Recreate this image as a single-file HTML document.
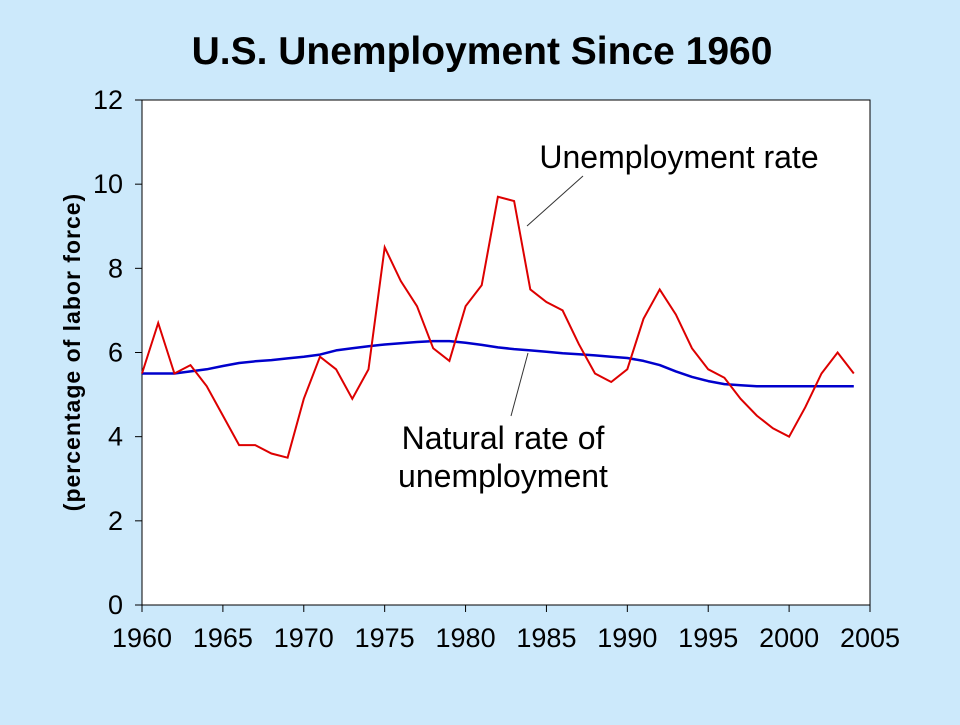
<!DOCTYPE html>
<html><head><meta charset="utf-8"><style>
html,body{margin:0;padding:0;background:#cce9fb;}
body{width:960px;height:720px;overflow:hidden;font-family:"Liberation Sans",Arial,sans-serif;}
</style></head><body>
<svg id="chart" width="960" height="720" xmlns="http://www.w3.org/2000/svg">
<rect width="960" height="720" fill="#cce9fb"/>
<text x="482" y="64" text-anchor="middle" font-size="39" font-weight="bold" fill="#000">U.S. Unemployment Since 1960</text>
<rect x="142" y="100" width="728" height="505" fill="#fff" stroke="#000" stroke-width="1"/>
<g id="axes"></g>
<g id="series"></g>
<text transform="translate(80,352) rotate(-90)" text-anchor="middle" font-size="23" font-weight="bold" letter-spacing="1" fill="#000">(percentage of labor force)</text>
<text x="679" y="168" text-anchor="middle" font-size="32" fill="#000">Unemployment rate</text>
<line x1="583" y1="176" x2="527" y2="226" stroke="#333" stroke-width="1"/>
<text x="503" y="449" text-anchor="middle" font-size="32" fill="#000">Natural rate of</text>
<text x="503" y="487" text-anchor="middle" font-size="32" fill="#000">unemployment</text>
<line x1="511" y1="416" x2="528" y2="353" stroke="#333" stroke-width="1"/>
</svg>
<script>
const years = [1960,1961,1962,1963,1964,1965,1966,1967,1968,1969,1970,1971,1972,1973,1974,1975,1976,1977,1978,1979,1980,1981,1982,1983,1984,1985,1986,1987,1988,1989,1990,1991,1992,1993,1994,1995,1996,1997,1998,1999,2000,2001,2002,2003,2004];
const unemploymentRate = [5.5,6.7,5.5,5.7,5.2,4.5,3.8,3.8,3.6,3.5,4.9,5.9,5.6,4.9,5.6,8.5,7.7,7.1,6.1,5.8,7.1,7.6,9.7,9.6,7.5,7.2,7.0,6.2,5.5,5.3,5.6,6.8,7.5,6.9,6.1,5.6,5.4,4.9,4.5,4.2,4.0,4.7,5.5,6.0,5.5];
const naturalRate = [5.5,5.5,5.5,5.55,5.6,5.68,5.75,5.79,5.82,5.86,5.9,5.95,6.05,6.1,6.15,6.19,6.22,6.25,6.27,6.27,6.23,6.18,6.12,6.08,6.05,6.02,5.98,5.96,5.93,5.9,5.87,5.8,5.7,5.55,5.42,5.32,5.25,5.22,5.2,5.2,5.2,5.2,5.2,5.2,5.2];
const yTicks = [0,2,4,6,8,10,12];
const xTicks = [1960,1965,1970,1975,1980,1985,1990,1995,2000,2005];

const X0=142,X1=870,Y0=605,Y1=100;
function xs(y){return X0+(y-1960)/(2005-1960)*(X1-X0);}
function ys(v){return Y0-(v-0)/(12-0)*(Y0-Y1);}
const NS="http://www.w3.org/2000/svg";
const axes=document.getElementById('axes');
const series=document.getElementById('series');
function mk(tag,attrs,parent){const e=document.createElementNS(NS,tag);for(const k in attrs)e.setAttribute(k,attrs[k]);parent.appendChild(e);return e;}

yTicks.forEach(v=>{
  const t=mk('line',{x1:X0-7,x2:X0,y1:ys(v),y2:ys(v),stroke:'#000'},axes);
  
  
  const l=mk('text',{x:X0-19,y:ys(v)+9,'text-anchor':'end','font-size':'27',fill:'#000'},axes);
  l.textContent=v;
  
  
});
xTicks.forEach(v=>{
  const t=mk('line',{x1:xs(v),x2:xs(v),y1:Y0,y2:Y0+7,stroke:'#000'},axes);
  
  
  const l=mk('text',{x:xs(v),y:Y0+42,'text-anchor':'middle','font-size':'27',fill:'#000'},axes);
  l.textContent=v;
  
  
});
function pts(arr){return years.map((y,i)=>xs(y).toFixed(1)+','+ys(arr[i]).toFixed(1)).join(' ');}
const nl=mk('polyline',{points:pts(naturalRate),fill:'none',stroke:'#0000cc','stroke-width':'2.5','stroke-linejoin':'round'},series);


const ul=mk('polyline',{points:pts(unemploymentRate),fill:'none',stroke:'#dd0000','stroke-width':'2','stroke-linejoin':'miter'},series);


</script>
</body></html>
